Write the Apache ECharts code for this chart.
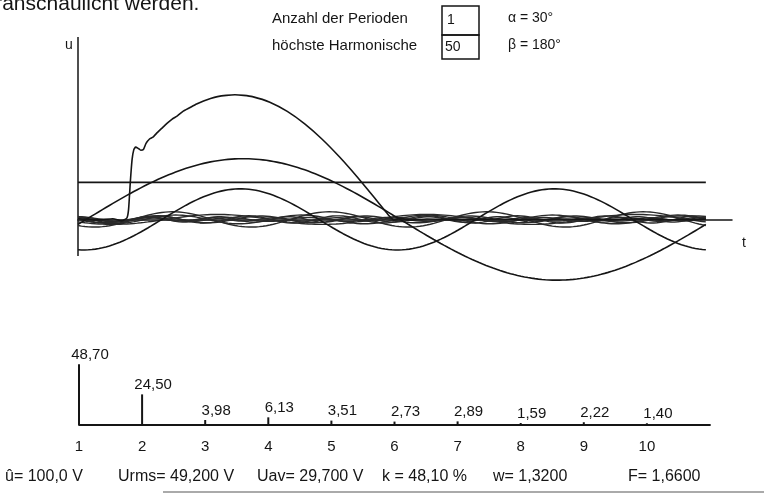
<!DOCTYPE html>
<html>
<head>
<meta charset="utf-8">
<script src="https://cdn.jsdelivr.net/npm/echarts@6/dist/echarts.min.js"></script>
<style>
  html, body { margin: 0; padding: 0; background: #fff; }
  #main { width: 764px; height: 494px; }
</style>
</head>
<body>
<div id="main"></div>
<script>
// Oberschwingungen 1..10 (Amplitude in V, Phase in Grad)
var harmonicNo = [1, 2, 3, 4, 5, 6, 7, 8, 9, 10];
var amplitude = [48.70, 24.50, 3.98, 6.13, 3.51, 2.73, 2.89, 1.59, 2.22, 1.40];
var phaseDeg = [-4.7, -96.2, -150.0, -127.3, 169.1, -177.4, 126.6, 113.4, 81.0, 41.7];
var dcValue = 29.7;

// synthetisierte Spannung u(t)
var sumDeg = [0, 10, 20, 25, 28, 29, 30, 31, 32, 33, 34.5, 36, 37.5, 39, 41, 43, 45, 48, 51, 54, 57, 60, 64, 68, 72, 76, 80, 85, 90, 95, 100, 110, 120, 130, 140, 150, 160, 170, 175, 178, 181, 185, 190, 200, 220, 240, 260, 280, 300, 320, 340, 360];
var sumVal = [0.5, -0.5, 0.5, -1, 1, 8, 30, 48, 56, 58, 57, 55.5, 56, 61, 64.5, 66, 69, 73, 77, 80.5, 83, 86.5, 89.5, 92.5, 95, 97, 98.5, 99.5, 100, 99.5, 98.5, 94, 86.6, 76.6, 64.3, 50, 34.2, 17.4, 8.7, 3.5, -0.5, 0.8, -0.5, 0.3, -0.3, 0.3, -0.3, 0.3, -0.3, 0.3, -0.3, 0];

var infoTexts = ['û= 100,0 V', 'Urms= 49,200 V', 'Uav= 29,700 V', 'k = 48,10 %', 'w= 1,3200', 'F= 1,6600'];
var infoX = [5, 118, 257, 382, 493, 628];

var ink = '#151515';
var fnt = '"Liberation Sans", Arial, sans-serif';

var myChart = echarts.init(document.getElementById('main'));

var series = [];
var sumData = [];
for (var i = 0; i < sumDeg.length; i++) sumData.push([sumDeg[i], sumVal[i]]);

// kleine Oberschwingungen zuerst (Band um die Nulllinie)
for (var h = harmonicNo.length - 1; h >= 0; h--) {
    var n = harmonicNo[h];
    var pts = [];
    for (var d = 0; d <= 360; d += 1) {
        pts.push([d, amplitude[h] * Math.sin((n * d + phaseDeg[h]) * Math.PI / 180)]);
    }
    series.push({
        name: 'H' + n,
        type: 'line',
        xAxisIndex: 0, yAxisIndex: 0,
        showSymbol: false,
        data: pts,
        lineStyle: { color: n <= 2 ? ink : '#2a2a2a', width: n <= 2 ? 1.6 : 1.4 },
        silent: true
    });
}
series.push({
    name: 'DC',
    type: 'line',
    xAxisIndex: 0, yAxisIndex: 0,
    showSymbol: false,
    data: [[0, dcValue], [360, dcValue]],
    lineStyle: { color: ink, width: 1.8 }
});
series.push({
    name: 'u',
    type: 'line',
    xAxisIndex: 0, yAxisIndex: 0,
    showSymbol: false,
    smooth: 0.15,
    data: sumData,
    lineStyle: { color: ink, width: 1.6 }
});

var specData = [];
for (var k = 0; k < harmonicNo.length; k++) specData.push([harmonicNo[k], amplitude[k]]);
series.push({
    name: 'Spektrum',
    type: 'bar',
    xAxisIndex: 1, yAxisIndex: 1,
    barWidth: 2,
    data: specData,
    itemStyle: { color: ink },
    label: {
        show: true,
        position: 'top',
        distance: 2,
        offset: [11, 0],
        color: ink,
        fontSize: 15,
        fontFamily: fnt,
        formatter: function (p) { return p.value[1].toFixed(2).replace('.', ','); }
    }
});

var graphics = [
    { type: 'text', x: -27, y: 15, style: { text: 'veranschaulicht werden.', font: '21px ' + fnt, fill: ink, verticalAlign: 'bottom' } },
    { type: 'text', x: 272, y: 19, style: { text: 'Anzahl der Perioden', font: '15px ' + fnt, fill: ink, verticalAlign: 'middle' } },
    { type: 'rect', shape: { x: 442, y: 6, width: 37, height: 29 }, style: { fill: 'none', stroke: ink, lineWidth: 1.5 } },
    { type: 'text', x: 447, y: 20, style: { text: '1', font: '14px ' + fnt, fill: ink, verticalAlign: 'middle' } },
    { type: 'text', x: 508, y: 18, style: { text: 'α = 30°', font: '14px ' + fnt, fill: ink, verticalAlign: 'middle' } },
    { type: 'text', x: 272, y: 46, style: { text: 'höchste Harmonische', font: '15px ' + fnt, fill: ink, verticalAlign: 'middle' } },
    { type: 'rect', shape: { x: 442, y: 35, width: 37, height: 24 }, style: { fill: 'none', stroke: ink, lineWidth: 1.5 } },
    { type: 'text', x: 445, y: 47, style: { text: '50', font: '14px ' + fnt, fill: ink, verticalAlign: 'middle' } },
    { type: 'text', x: 508, y: 45, style: { text: 'β = 180°', font: '14px ' + fnt, fill: ink, verticalAlign: 'middle' } },
    { type: 'text', x: 65, y: 45, style: { text: 'u', font: '14px ' + fnt, fill: ink, verticalAlign: 'middle' } },
    { type: 'text', x: 742, y: 243, style: { text: 't', font: '14px ' + fnt, fill: ink, verticalAlign: 'middle' } },
    // u-Achse (endet unterhalb der Nulllinie)
    { type: 'line', shape: { x1: 78, y1: 37, x2: 78, y2: 256 }, style: { stroke: ink, lineWidth: 1.5 } },
    { type: 'line', shape: { x1: 163, y1: 492, x2: 764, y2: 492 }, style: { stroke: '#aaa', lineWidth: 2 } }
];
for (var t = 0; t < infoTexts.length; t++) {
    graphics.push({ type: 'text', x: infoX[t], y: 477, style: { text: infoTexts[t], font: '16px ' + fnt, fill: ink, verticalAlign: 'middle' } });
}

var option = {
    backgroundColor: '#fff',
    animation: false,
    grid: [
        { left: 78, top: 37, width: 654, height: 251 },
        { left: 79, top: 350, width: 631, height: 75 }
    ],
    xAxis: [{
        gridIndex: 0,
        type: 'value',
        min: 0,
        max: 375,
        axisLine: { onZero: true, lineStyle: { color: ink, width: 1.5 } },
        axisTick: { show: false },
        axisLabel: { show: false },
        splitLine: { show: false }
    }, {
        gridIndex: 1,
        type: 'value',
        min: 1,
        max: 11,
        interval: 1,
        axisLine: { lineStyle: { color: ink, width: 1.8 } },
        axisTick: { show: false },
        axisLabel: {
            margin: 14,
            color: ink,
            fontSize: 15,
            fontFamily: fnt,
            formatter: function (v) { return v <= 10 ? v : ''; }
        },
        splitLine: { show: false }
    }],
    yAxis: [{
        gridIndex: 0,
        type: 'value',
        min: -55,
        max: 146.3,
        axisLine: { show: false },
        axisTick: { show: false },
        axisLabel: { show: false },
        splitLine: { show: false }
    }, {
        gridIndex: 1,
        type: 'value',
        min: 0,
        max: 60,
        axisLine: { show: false },
        axisTick: { show: false },
        axisLabel: { show: false },
        splitLine: { show: false }
    }],
    graphic: graphics,
    series: series
};

myChart.setOption(option);
</script>
</body>
</html>
